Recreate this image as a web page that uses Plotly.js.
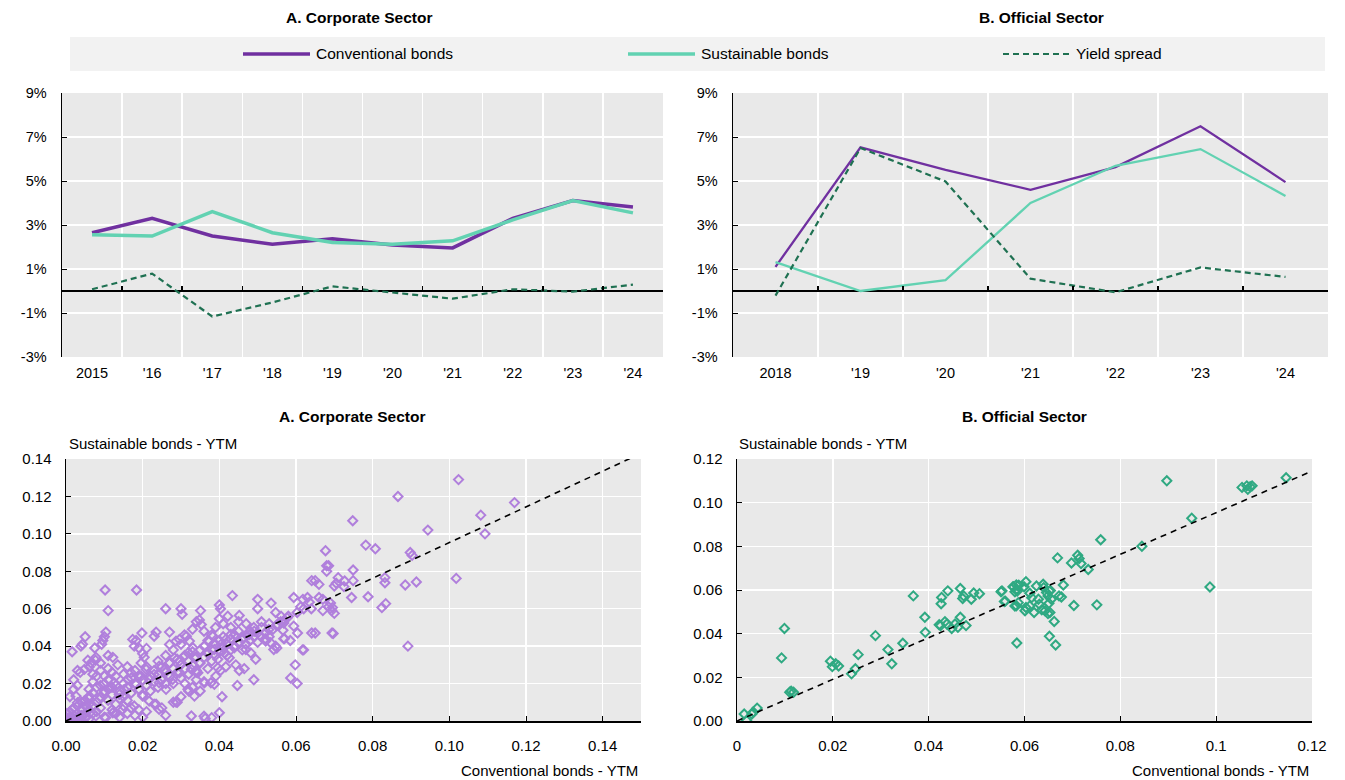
<!DOCTYPE html>
<html>
<head>
<meta charset="utf-8">
<script src="https://cdn.plot.ly/plotly-3.0.1.min.js"></script>
<style>html,body{margin:0;padding:0;background:#fff;}#chart{width:1345px;height:780px;}</style>
</head>
<body>
<div id="chart"></div>
<script>
// ---------- DATA ----------
const corpYears = ['2015', "'16", "'17", "'18", "'19", "'20", "'21", "'22", "'23", "'24"];
const corpConv = [2.65, 3.30, 2.50, 2.13, 2.37, 2.09, 1.96, 3.30, 4.11, 3.82];
const corpSust = [2.56, 2.50, 3.61, 2.65, 2.21, 2.13, 2.28, 3.23, 4.11, 3.55];
const corpSpread = [0.08, 0.79, -1.16, -0.52, 0.21, -0.06, -0.35, 0.08, -0.03, 0.29];

const offYears = ['2018', "'19", "'20", "'21", "'22", "'23", "'24"];
const offConv = [1.10, 6.53, 5.51, 4.60, 5.63, 7.49, 4.95];
const offSust = [1.31, 0.00, 0.49, 4.00, 5.69, 6.45, 4.32];
const offSpread = [-0.21, 6.50, 4.98, 0.56, -0.06, 1.07, 0.64];

const pctTickVals = [-3, -1, 1, 3, 5, 7, 9];
const pctTickText = ['-3%', '-1%', '1%', '3%', '5%', '7%', '9%'];

const seriesNames = ['Conventional bonds', 'Sustainable bonds', 'Yield spread'];

// Scatter: [conventional YTM, sustainable YTM]
const corpPoints = [
 [0.000,0.001],[0.001,0.002],[0.001,0.000],[0.002,0.001],[0.002,0.003],[0.003,0.002],[0.003,0.004],[0.004,0.003],
 [0.004,0.006],[0.005,0.004],[0.001,0.005],[0.002,0.007],[0.003,0.008],[0.004,0.010],[0.005,0.008],[0.001,0.013],
 [0.002,0.017],[0.003,0.019],[0.000,0.004],[0.003,0.000],[0.004,0.001],[0.005,0.002],[0.006,0.001],[0.005,0.011],
 [0.006,0.006],[0.006,0.009],[0.007,0.004],
 [0.006,0.012],[0.007,0.015],[0.008,0.010],[0.008,0.018],[0.009,0.013],[0.009,0.007],[0.010,0.016],[0.010,0.020],
 [0.011,0.011],[0.011,0.022],[0.012,0.014],[0.012,0.018],[0.013,0.009],[0.013,0.024],[0.014,0.016],[0.014,0.012],
 [0.015,0.020],[0.015,0.008],[0.006,0.017],[0.007,0.021],[0.008,0.024],[0.009,0.027],[0.010,0.024],[0.011,0.028],
 [0.012,0.026],[0.013,0.004],[0.014,0.002],[0.010,0.002],[0.008,0.005],[0.012,0.006],[0.007,0.008],[0.009,0.019],
 [0.011,0.017],[0.013,0.019],[0.015,0.013],[0.016,0.011],
 [0.016,0.004],[0.018,0.003],[0.020,0.002],[0.017,0.007],[0.019,0.006],[0.021,0.005],[0.023,0.009],[0.026,0.003],
 [0.028,0.010],[0.025,0.007],
 [0.0102,0.070],[0.0184,0.070],[0.011,0.059],[0.005,0.045],[0.0104,0.0475],[0.010,0.045],[0.0096,0.043],[0.0093,0.041],
 [0.0016,0.037],[0.0039,0.040],[0.0043,0.041],[0.0075,0.039],[0.0174,0.0436],[0.0183,0.043],[0.0178,0.040],[0.0198,0.047],
 [0.019,0.039],[0.021,0.0388],[0.020,0.036],[0.011,0.035],[0.0122,0.034],[0.0135,0.030],[0.0078,0.034],[0.0077,0.0325],
 [0.0057,0.0325],[0.0061,0.029],[0.0048,0.0276],[0.0037,0.026],[0.0204,0.034],[0.0196,0.031],[0.0065,0.031],[0.009,0.031],
 [0.003,0.027],[0.002,0.022],[0.007,0.025],[0.015,0.025],[0.016,0.029],[0.017,0.023],[0.018,0.027],
 [0.016,0.018],[0.017,0.015],[0.018,0.020],[0.019,0.017],[0.020,0.022],[0.020,0.014],[0.021,0.019],[0.022,0.024],
 [0.022,0.016],[0.023,0.021],[0.023,0.027],[0.024,0.018],[0.024,0.025],[0.025,0.022],[0.025,0.029],[0.026,0.020],
 [0.026,0.026],[0.027,0.031],[0.027,0.024],[0.028,0.028],[0.028,0.020],[0.029,0.033],[0.029,0.026],[0.030,0.030],
 [0.030,0.023],[0.031,0.035],[0.031,0.028],[0.032,0.032],[0.032,0.025],[0.033,0.037],[0.033,0.030],[0.034,0.034],
 [0.034,0.027],[0.035,0.038],[0.035,0.031],[0.021,0.029],[0.019,0.024],[0.024,0.032],[0.026,0.035],[0.028,0.038],
 [0.030,0.041],[0.027,0.0409],[0.0287,0.0427],[0.0296,0.0436],[0.0309,0.046],[0.023,0.0453],[0.0235,0.0475],[0.027,0.0475],
 [0.026,0.060],[0.030,0.060],[0.0303,0.057],[0.030,0.013],[0.032,0.016],[0.029,0.010],[0.0235,0.009],[0.031,0.020],
 [0.033,0.018],[0.034,0.022],
 [0.036,0.034],[0.036,0.040],[0.037,0.036],[0.037,0.043],[0.038,0.038],[0.038,0.032],[0.039,0.041],[0.039,0.035],
 [0.040,0.043],[0.040,0.037],[0.041,0.039],[0.041,0.045],[0.042,0.041],[0.042,0.035],[0.043,0.044],[0.043,0.038],
 [0.044,0.046],[0.044,0.040],[0.045,0.042],[0.045,0.048],[0.046,0.044],[0.046,0.038],[0.047,0.046],[0.047,0.041],
 [0.048,0.048],[0.048,0.043],[0.049,0.045],[0.049,0.050],[0.050,0.047],[0.050,0.042],
 [0.0434,0.067],[0.040,0.062],[0.0403,0.060],[0.0351,0.059],[0.050,0.065],[0.050,0.060],[0.0535,0.063],[0.0353,0.0516],
 [0.0348,0.054],[0.034,0.053],[0.040,0.0546],[0.0422,0.056],[0.0452,0.0564],[0.039,0.050],[0.041,0.052],[0.043,0.050],
 [0.045,0.053],[0.047,0.052],[0.036,0.048],[0.038,0.046],[0.033,0.049],
 [0.0407,0.013],[0.040,0.0044],[0.038,0.0018],[0.0363,0.0014],[0.0327,0.0027],[0.0447,0.019],[0.0378,0.0204],[0.0387,0.0196],
 [0.0495,0.033],[0.0465,0.028],[0.0443,0.030],[0.0452,0.027],[0.0417,0.029],[0.0403,0.027],[0.0396,0.033],[0.049,0.022],
 [0.036,0.021],[0.035,0.016],[0.034,0.026],[0.037,0.028],[0.036,0.0025],
 [0.0594,0.066],[0.0618,0.065],[0.063,0.066],[0.0635,0.0635],[0.0641,0.075],[0.0612,0.061],[0.062,0.060],[0.0603,0.058],
 [0.0547,0.058],[0.0561,0.056],[0.056,0.053],[0.0568,0.044],[0.0585,0.043],[0.0566,0.0485],[0.0594,0.0507],[0.0604,0.047],
 [0.0617,0.038],[0.0641,0.047],[0.0547,0.040],[0.0598,0.030],[0.0586,0.023],[0.0603,0.020],[0.051,0.050],[0.052,0.047],
 [0.053,0.052],[0.054,0.049],[0.055,0.051],[0.052,0.044],[0.051,0.053],[0.053,0.045],[0.057,0.054],[0.058,0.056],
 [0.065,0.075],[0.066,0.073],[0.0677,0.091],[0.068,0.083],[0.068,0.080],[0.0693,0.059],[0.0694,0.047],[0.065,0.047],
 [0.062,0.038],[0.057,0.044],[0.055,0.039],[0.066,0.066],[0.067,0.065],[0.064,0.060],[0.067,0.059],[0.069,0.063],
 [0.0685,0.061],
 [0.1024,0.129],[0.0866,0.120],[0.117,0.1167],[0.1082,0.110],[0.1093,0.100],[0.0748,0.107],[0.0944,0.102],[0.0782,0.094],
 [0.0807,0.092],[0.0898,0.090],[0.0903,0.0885],[0.0749,0.0807],[0.0685,0.083],[0.071,0.0766],[0.070,0.0721],[0.0705,0.0736],
 [0.0727,0.0748],[0.0725,0.0718],[0.0749,0.075],[0.0745,0.066],[0.0788,0.0664],[0.0832,0.0766],[0.0832,0.0739],[0.0885,0.0727],
 [0.0914,0.0743],[0.1018,0.0762],[0.0824,0.0606],[0.0834,0.0627],[0.0695,0.0606],[0.070,0.0575],[0.0697,0.0468],[0.0892,0.040],
 [0.0017,0.0062],[0.0030,0.0098],[0.0048,0.0107],[0.0061,0.0133],[0.0026,0.0133],[0.0070,0.0080],[0.0087,0.0116],[0.0100,0.0151],
 [0.0113,0.0178],[0.0126,0.0204],[0.0139,0.0142],[0.0152,0.0169],[0.0161,0.0222],[0.0170,0.0258],[0.0183,0.0196],[0.0196,0.0240],
 [0.0209,0.0276],[0.0217,0.0222],[0.0230,0.0249],[0.0243,0.0293],[0.0257,0.0276],[0.0270,0.0311],[0.0283,0.0338],[0.0296,0.0320],
 [0.0309,0.0347],[0.0243,0.0204],[0.0261,0.0169],[0.0278,0.0222],[0.0296,0.0258],[0.0200,0.0133],[0.0217,0.0107],[0.0178,0.0080],
 [0.0148,0.0062],[0.0122,0.0044],[0.0104,0.0018],[0.0078,0.0027],[0.0052,0.0018],[0.0287,0.0101],[0.0243,0.0062],
 [0.0314,0.0453],[0.0322,0.0427],[0.0331,0.0391],[0.0318,0.0364],[0.0335,0.0338],[0.0348,0.0311],[0.0327,0.0276],[0.0344,0.0258],
 [0.0361,0.0400],[0.0374,0.0427],[0.0383,0.0453],[0.0370,0.0364],[0.0387,0.0382],[0.0404,0.0409],[0.0417,0.0436],[0.0430,0.0462],
 [0.0413,0.0364],[0.0426,0.0338],[0.0439,0.0391],[0.0452,0.0418],[0.0465,0.0444],[0.0478,0.0462],[0.0491,0.0480],[0.0469,0.0382],
 [0.0482,0.0364],[0.0508,0.0453],[0.0521,0.0427],[0.0534,0.0418],[0.0542,0.0382],[0.0529,0.0489],[0.0551,0.0516],[0.0568,0.0524],
 [0.0577,0.0551],[0.0391,0.0240],[0.0361,0.0204],[0.0335,0.0133],[0.0318,0.0169],[0.0396,0.0284]
];

const offPoints = [
 [0.0015,0.0032],[0.0020,0.0003],[0.0031,0.0032],[0.0034,0.0041],[0.0042,0.0059],[0.0099,0.0424],[0.0093,0.0289],
 [0.0110,0.0132],[0.0113,0.0137],[0.0118,0.0132],[0.0195,0.0274],[0.0199,0.0249],[0.0206,0.0262],[0.0212,0.0252],
 [0.0239,0.0216],[0.0247,0.0239],[0.0253,0.0304],[0.0289,0.0391],[0.0315,0.0327],[0.0323,0.0262],[0.0346,0.0356],
 [0.0368,0.0573],[0.0392,0.0475],[0.0393,0.0406],[0.0422,0.0441],[0.0425,0.0437],[0.0427,0.0566],[0.0426,0.0537],
 [0.0434,0.0455],[0.0438,0.0444],[0.0448,0.0424],[0.0455,0.0444],[0.0461,0.0429],[0.0440,0.0596],[0.0466,0.0607],
 [0.0466,0.0475],[0.0473,0.0573],[0.0471,0.0561],[0.0478,0.0437],[0.0489,0.0558],[0.0494,0.0586],[0.0506,0.0583],
 [0.0553,0.0596],[0.0560,0.0549],[0.0577,0.0614],[0.0580,0.0592],[0.0584,0.0604],[0.0588,0.0622],[0.0583,0.0528],
 [0.0584,0.0357],[0.0551,0.0592],[0.0558,0.0547],
 [0.0897,0.1100],[0.1146,0.1114],[0.1054,0.1070],[0.1064,0.1077],[0.1066,0.1061],[0.1075,0.1077],[0.1071,0.1073],
 [0.0949,0.0929],[0.0759,0.0830],[0.0845,0.0800],[0.0987,0.0614],[0.0669,0.0747],[0.0698,0.0724],[0.0711,0.0759],
 [0.0714,0.0744],[0.0718,0.0721],[0.0733,0.0694],[0.0681,0.0623],[0.0703,0.0529],[0.0751,0.0532],[0.0662,0.0456],
 [0.0652,0.0388],[0.0665,0.0348],
 [0.0576,0.0615],[0.0583,0.0623],[0.0585,0.0595],[0.0603,0.0638],[0.0599,0.0615],[0.0587,0.0542],[0.0580,0.0527],
 [0.0603,0.0520],[0.0601,0.0505],[0.0611,0.0527],[0.0620,0.0497],[0.0615,0.0565],[0.0625,0.0618],[0.0631,0.0535],
 [0.0629,0.0558],[0.0639,0.0626],[0.0640,0.0611],[0.0646,0.0588],[0.0649,0.0573],[0.0652,0.0595],[0.0654,0.0598],
 [0.0656,0.0558],[0.0651,0.0539],[0.0636,0.0509],[0.0643,0.0505],[0.0649,0.0492],[0.0653,0.0497],[0.0672,0.0573],
 [0.0677,0.0568],[0.0611,0.0585]
];

// fitted reference lines (endpoints)
const corpFitX = [0, 0.15];
const corpFitY = [0, 0.143];
const offFitX = [0, 0.12];
const offFitY = [0, 0.1145];

// ---------- STYLE ----------
const W = 1345, H = 780;
const px = v => v / W;
const py = v => 1 - v / H;
const FONT = 'Liberation Sans, Arial, sans-serif';
const C_CONV = '#7030a0', C_SUST = '#62d2b2', C_SPREAD = '#1f7152';
const C_CORP_PT = '#b07fdc', C_OFF_PT = '#2fa982';
const BG = '#e9e9e9';

const traces = [];
traces.push({x: corpYears, y: corpConv, type: 'scatter', mode: 'lines', xaxis: 'x', yaxis: 'y', line: {color: C_CONV, width: 3.5}, name: seriesNames[0]});
traces.push({x: corpYears, y: corpSust, type: 'scatter', mode: 'lines', xaxis: 'x', yaxis: 'y', line: {color: C_SUST, width: 3.5}, name: seriesNames[1]});
traces.push({x: corpYears, y: corpSpread, type: 'scatter', mode: 'lines', xaxis: 'x', yaxis: 'y', line: {color: C_SPREAD, width: 2.2, dash: '6px,4px'}, name: seriesNames[2]});
traces.push({x: offYears, y: offConv, type: 'scatter', mode: 'lines', xaxis: 'x2', yaxis: 'y2', line: {color: C_CONV, width: 2.3}, name: seriesNames[0]});
traces.push({x: offYears, y: offSust, type: 'scatter', mode: 'lines', xaxis: 'x2', yaxis: 'y2', line: {color: C_SUST, width: 2.3}, name: seriesNames[1]});
traces.push({x: offYears, y: offSpread, type: 'scatter', mode: 'lines', xaxis: 'x2', yaxis: 'y2', line: {color: C_SPREAD, width: 2.2, dash: '6px,4px'}, name: seriesNames[2]});
traces.push({x: corpPoints.map(p => p[0]), y: corpPoints.map(p => p[1]), type: 'scatter', mode: 'markers', xaxis: 'x3', yaxis: 'y3',
  marker: {symbol: 'diamond-open', size: 7, color: C_CORP_PT, line: {width: 2, color: C_CORP_PT}}});
traces.push({x: corpFitX, y: corpFitY, type: 'scatter', mode: 'lines', xaxis: 'x3', yaxis: 'y3', line: {color: '#000', width: 1.6, dash: '6px,5px'}});
traces.push({x: offPoints.map(p => p[0]), y: offPoints.map(p => p[1]), type: 'scatter', mode: 'markers', xaxis: 'x4', yaxis: 'y4',
  marker: {symbol: 'diamond-open', size: 7, color: C_OFF_PT, line: {width: 2, color: C_OFF_PT}}});
traces.push({x: offFitX, y: offFitY, type: 'scatter', mode: 'lines', xaxis: 'x4', yaxis: 'y4', line: {color: '#000', width: 1.6, dash: '6px,5px'}});
traces.push({x: [null], y: [null], type: 'scatter', mode: 'lines', xaxis: 'x5', yaxis: 'y', hoverinfo: 'skip'});
traces.push({x: [null], y: [null], type: 'scatter', mode: 'lines', xaxis: 'x6', yaxis: 'y2', hoverinfo: 'skip'});

const topY = [py(357), py(93)];
const botY = [py(721), py(459)];
const tickFont = {family: FONT, size: 14.5, color: '#000'};

function catX(domain) {
  return {domain: domain, type: 'category', tickson: 'boundaries', showgrid: true, gridcolor: '#fff', gridwidth: 1.5,
    ticks: '', showline: false, zeroline: false, tickfont: tickFont, ticklabelstandoff: 5, fixedrange: true};
}
function pctY(domain, anchor) {
  return {domain: domain, anchor: anchor, range: [-3, 9], tickvals: pctTickVals, ticktext: pctTickText,
    showgrid: true, gridcolor: '#fff', gridwidth: 1.5, showline: true, linecolor: '#000', linewidth: 1.5,
    ticks: 'inside', ticklen: 5, tickcolor: '#000', zeroline: true, zerolinecolor: '#000', zerolinewidth: 1.5,
    tickfont: tickFont, ticklabelstandoff: 11};
}
function zeroTicks(domain, n, overlay) {
  const vals = [];
  for (let i = 0; i < n - 1; i++) vals.push(i + 0.5);
  return {domain: domain, anchor: 'free', position: py(291), overlaying: overlay, range: [-0.5, n - 0.5],
    tickvals: vals, showticklabels: false, ticks: 'inside', ticklen: 5, tickcolor: '#000', tickwidth: 1.5,
    showgrid: false, showline: false, zeroline: false};
}
function sx(domain, range, fmt, anchor) {
  return {domain: domain, anchor: anchor, range: range, dtick: 0.02, tick0: 0, tickformat: fmt,
    showgrid: true, gridcolor: '#fff', gridwidth: 1.5, showline: true, linecolor: '#000', linewidth: 1.5,
    ticks: 'inside', ticklen: 5, tickcolor: '#000', zeroline: false, tickfont: {family: FONT, size: 15, color: '#000'},
    ticklabelstandoff: 10};
}
function sy(domain, range, anchor) {
  return {domain: domain, anchor: anchor, range: range, dtick: 0.02, tick0: 0, tickformat: '.2f',
    showgrid: true, gridcolor: '#fff', gridwidth: 1.5, showline: true, linecolor: '#000', linewidth: 1.5,
    ticks: 'inside', ticklen: 5, tickcolor: '#000', zeroline: false, tickfont: {family: FONT, size: 15, color: '#000'},
    ticklabelstandoff: 10};
}

const xTL = [px(62), px(663)], xTR = [px(733), px(1328)];
const xBL = [px(66), px(641)], xBR = [px(737), px(1312)];

const layout = {
  width: W, height: H, margin: {l: 0, r: 0, t: 0, b: 0}, paper_bgcolor: '#fff', plot_bgcolor: BG,
  showlegend: false, font: {family: FONT, size: 15, color: '#000'},
  xaxis: Object.assign(catX(xTL), {anchor: 'y', range: [-0.5, 9.5]}),
  yaxis: pctY(topY, 'x'),
  xaxis2: Object.assign(catX(xTR), {anchor: 'y2', range: [-0.5, 6.5]}),
  yaxis2: pctY(topY, 'x2'),
  xaxis3: sx(xBL, [0, 0.15], '.2f', 'y3'),
  yaxis3: sy(botY, [0, 0.14], 'x3'),
  xaxis4: sx(xBR, [0, 0.12], '', 'y4'),
  yaxis4: sy(botY, [0, 0.12], 'x4'),
  xaxis5: zeroTicks(xTL, 10, 'x'),
  xaxis6: zeroTicks(xTR, 7, 'x2'),
  shapes: [
    {type: 'rect', xref: 'paper', yref: 'paper', x0: px(70), x1: px(1325), y0: py(71), y1: py(37), fillcolor: '#f2f2f2', line: {width: 0}, layer: 'below'},
    {type: 'line', xref: 'paper', yref: 'paper', x0: px(243), x1: px(310), y0: py(54), y1: py(54), line: {color: C_CONV, width: 3.5}},
    {type: 'line', xref: 'paper', yref: 'paper', x0: px(628), x1: px(695), y0: py(54), y1: py(54), line: {color: C_SUST, width: 3.5}},
    {type: 'line', xref: 'paper', yref: 'paper', x0: px(1003), x1: px(1070), y0: py(54), y1: py(54), line: {color: C_SPREAD, width: 2.2, dash: '6px,4px'}}
  ],
  annotations: [
    {text: '<b>A. Corporate Sector</b>', x: px(359), y: py(17), xref: 'paper', yref: 'paper', showarrow: false, xanchor: 'center', yanchor: 'middle', font: {family: FONT, size: 15.5}},
    {text: '<b>B. Official Sector</b>', x: px(1041), y: py(17), xref: 'paper', yref: 'paper', showarrow: false, xanchor: 'center', yanchor: 'middle', font: {family: FONT, size: 15.5}},
    {text: '<b>A. Corporate Sector</b>', x: px(352), y: py(416), xref: 'paper', yref: 'paper', showarrow: false, xanchor: 'center', yanchor: 'middle', font: {family: FONT, size: 15.5}},
    {text: '<b>B. Official Sector</b>', x: px(1024), y: py(416), xref: 'paper', yref: 'paper', showarrow: false, xanchor: 'center', yanchor: 'middle', font: {family: FONT, size: 15.5}},
    {text: seriesNames[0], x: px(314), y: py(54), xref: 'paper', yref: 'paper', showarrow: false, xanchor: 'left', yanchor: 'middle', font: {family: FONT, size: 15.5}},
    {text: seriesNames[1], x: px(699), y: py(54), xref: 'paper', yref: 'paper', showarrow: false, xanchor: 'left', yanchor: 'middle', font: {family: FONT, size: 15.5}},
    {text: seriesNames[2], x: px(1074), y: py(54), xref: 'paper', yref: 'paper', showarrow: false, xanchor: 'left', yanchor: 'middle', font: {family: FONT, size: 15.5}},
    {text: 'Sustainable bonds - YTM', x: px(67), y: py(443), xref: 'paper', yref: 'paper', showarrow: false, xanchor: 'left', yanchor: 'middle', font: {family: FONT, size: 15}},
    {text: 'Sustainable bonds - YTM', x: px(737), y: py(443), xref: 'paper', yref: 'paper', showarrow: false, xanchor: 'left', yanchor: 'middle', font: {family: FONT, size: 15}},
    {text: 'Conventional bonds - YTM', x: px(640), y: py(770), xref: 'paper', yref: 'paper', showarrow: false, xanchor: 'right', yanchor: 'middle', font: {family: FONT, size: 15}},
    {text: 'Conventional bonds - YTM', x: px(1311), y: py(770), xref: 'paper', yref: 'paper', showarrow: false, xanchor: 'right', yanchor: 'middle', font: {family: FONT, size: 15}}
  ]
};

Plotly.newPlot('chart', traces, layout, {staticPlot: true, displayModeBar: false});
</script>
</body>
</html>
